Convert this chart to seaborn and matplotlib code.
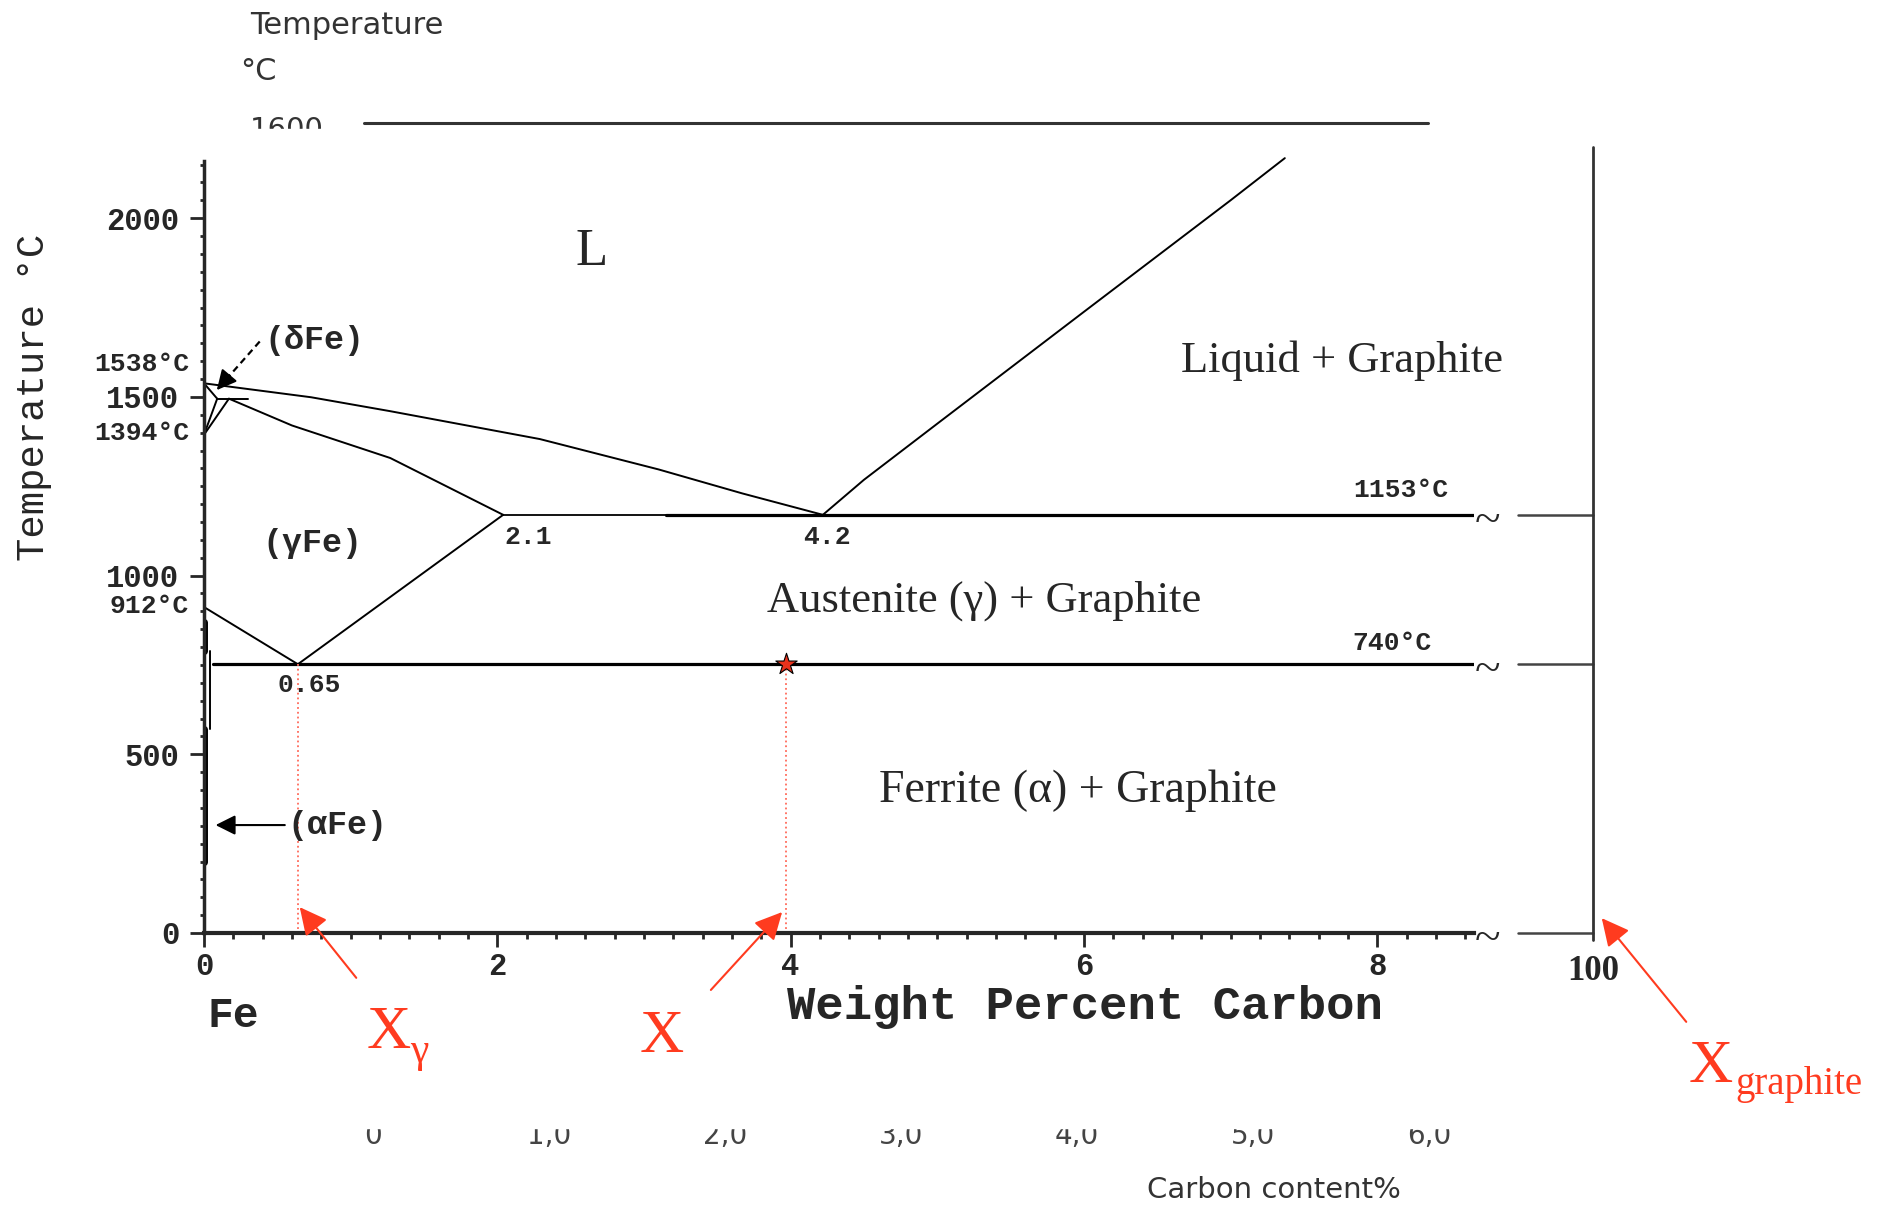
import matplotlib
matplotlib.use("Agg")
import matplotlib.pyplot as plt
import seaborn as sns
from matplotlib.lines import Line2D
from matplotlib.patches import Rectangle, FancyArrowPatch

# Fe-C (stable, graphite) phase diagram values
liq_fe_x = [0.0, 0.73, 1.27, 2.29, 3.10, 3.67, 4.22]
liq_fe_t = [1538, 1499, 1460, 1382, 1297, 1230, 1170]
liq_gr_x = [4.22, 4.5, 5.0, 6.0, 7.0, 7.37]
liq_gr_t = [1170, 1268, 1425, 1738, 2050, 2168]
solidus_x = [0.17, 0.6, 1.27, 2.04]
solidus_t = [1495, 1420, 1329, 1170]
acm_x = [2.04, 1.34, 0.64]
acm_t = [1170, 961, 752]
a3_x = [0.0, 0.64]
a3_t = [912, 752]
delta_sol_x = [0.0, 0.09]
delta_sol_t = [1538, 1495]
delta_a_x = [0.09, 0.0]
delta_a_t = [1495, 1394]
delta_b_x = [0.17, 0.0]
delta_b_t = [1495, 1394]
perit_x = [0.09, 0.3]
perit_t = [1495, 1495]
eutectic_x = [2.04, 8.66]
eutectic_t = 1170
eutectoid_x = [0.06, 8.66]
eutectoid_t = 752
alpha_bar_t = [[790, 870], [200, 570]]
alpha_thin_x = 0.04
alpha_thin_t = [570, 790]

alloy_x = 3.97          # the star, X
x_gamma = 0.64          # eutectoid composition
x_graphite = 9.47       # stands for 100 % (graphite) beyond the axis break
break_x = [8.96, 9.47]
break_temps = [1170, 752, 0]

x_ticks = [0, 2, 4, 6, 8]
y_ticks = [0, 500, 1000, 1500, 2000]
content_ticks = [0, 1, 2, 3, 4, 5, 6]
content_labels = ["0", "1,0", "2,0", "3,0", "4,0", "5,0", "6,0"]

W, H = 1885, 1210
def fp(x, y):
    return (x / W, 1 - y / H)

sns.set_style("white")
plt.rcParams["font.family"] = ["DejaVu Sans"]

PIX = dict(family="Liberation Mono", weight="bold")
SERIF = dict(family="Liberation Serif")
RED = "#ff3b1f"

fig = plt.figure(figsize=(W / 100, H / 100), dpi=100)
ax = fig.add_axes([204 / W, 277 / H, 1270 / W, 772 / H])
ax.set_xlim(0, 8.66)
ax.set_ylim(0, 2160)

# phase boundaries
thin = dict(color="black", lw=1.4, sort=False, estimator=None, ax=ax)
for xs, ts in [(liq_fe_x, liq_fe_t), (liq_gr_x, liq_gr_t), (solidus_x, solidus_t),
               (acm_x, acm_t), (a3_x, a3_t), (delta_sol_x, delta_sol_t),
               (delta_a_x, delta_a_t), (delta_b_x, delta_b_t), (perit_x, perit_t)]:
    sns.lineplot(x=xs, y=ts, **thin)
for ln in ax.lines:
    ln.set_clip_on(False)

sns.lineplot(x=[eutectic_x[0], 3.15], y=[eutectic_t] * 2, color="black", lw=1.3, ax=ax)
sns.lineplot(x=[3.15, eutectic_x[1]], y=[eutectic_t] * 2, color="black", lw=2.3, ax=ax)
sns.lineplot(x=eutectoid_x, y=[eutectoid_t] * 2, color="black", lw=2.3, ax=ax)
for seg in alpha_bar_t:
    sns.lineplot(x=[0, 0], y=seg, color="black", lw=5, ax=ax, sort=False, estimator=None)
sns.lineplot(x=[alpha_thin_x] * 2, y=alpha_thin_t, color="black", lw=1.4, ax=ax,
             sort=False, estimator=None)

# red guide lines and star
ax.plot([alloy_x, alloy_x], [eutectoid_t, 0], ls=":", color="#ff6a5a", lw=1.3)
ax.plot([x_gamma, x_gamma], [eutectoid_t, 0], ls=":", color="#ff6a5a", lw=1.3)
sns.scatterplot(x=[alloy_x], y=[eutectoid_t], marker="*", s=260, color="#e8321c",
                edgecolor="black", linewidth=0.8, ax=ax, zorder=5)

# axis break and the 100 % line
for t in break_temps:
    ax.plot(break_x, [t, t], color="#444444", lw=1.8, clip_on=False)
    ax.text(8.75, t - 18, "~", fontsize=34, ha="center", va="center", clip_on=False, **SERIF)
ax.plot([x_graphite, x_graphite], [-20, 2198], color="#333333", lw=2, clip_on=False)
ax.text(x_graphite, -108, "100", fontsize=25, weight="bold", ha="center", va="center",
        family="Liberation Serif")

# axes styling
sns.despine(ax=ax)
ax.spines["left"].set_linewidth(2.5)
ax.spines["bottom"].set_linewidth(3)
ax.set_xticks(x_ticks)
ax.set_xticks([v / 5 for v in range(0, 44)], minor=True)
ax.set_yticks(y_ticks)
ax.set_yticks(list(range(0, 2151, 50)), minor=True)
ax.tick_params(axis="x", which="major", length=10, width=2, pad=4, direction="out", bottom=True)
ax.tick_params(axis="x", which="minor", length=4, width=2, direction="out", bottom=True)
ax.tick_params(axis="y", which="major", length=10, width=2, pad=8, direction="out", left=True)
ax.tick_params(axis="y", which="minor", length=3, width=2, direction="out", left=True)
for lab in ax.get_xticklabels() + ax.get_yticklabels():
    lab.set_fontfamily("Liberation Mono")
    lab.set_fontweight("bold")
    lab.set_fontsize(22)
ax.set_xlabel("")
ax.set_ylabel("")

# region labels
ax.text(2.64, 1905, "L", fontsize=38, ha="center", va="center", **SERIF)
ax.text(7.76, 1600, "Liquid + Graphite", fontsize=32, ha="center", va="center", **SERIF)
ax.text(5.32, 929, "Austenite (γ) + Graphite", fontsize=32, ha="center", va="center", **SERIF)
ax.text(5.96, 397, "Ferrite (α) + Graphite", fontsize=33, ha="center", va="center", **SERIF)
ax.text(0.74, 1091, "(γFe)", fontsize=24, ha="center", va="center", **PIX)
ax.text(0.41, 1659, "(δFe)", fontsize=24, ha="left", va="center", **PIX)
ax.text(0.57, 302, "(αFe)", fontsize=24, ha="left", va="center", **PIX)
ax.text(2.05, 1108, "2.1", fontsize=19, ha="left", va="center", **PIX)
ax.text(4.25, 1108, "4.2", fontsize=19, ha="center", va="center", **PIX)
ax.text(0.72, 694, "0.65", fontsize=19, ha="center", va="center", **PIX)
ax.text(8.16, 1239, "1153°C", fontsize=19, ha="center", va="center", **PIX)
ax.text(8.10, 811, "740°C", fontsize=19, ha="center", va="center", **PIX)
for t, s in [(1592, "1538°C"), (1400, "1394°C"), (915, "912°C")]:
    ax.text(-0.1, t, s, fontsize=19, ha="right", va="center", clip_on=False, **PIX)

# black arrows
ax.plot([0.38, 0.1], [1655, 1525], ls=(0, (3, 2)), color="black", lw=1.6, clip_on=False)
ax.annotate("", xy=(0.075, 1513), xytext=(0.184, 1566), annotation_clip=False,
            arrowprops=dict(arrowstyle="-|>", color="black", lw=1.5, mutation_scale=30))
ax.annotate("", xy=(0.06, 302), xytext=(0.57, 302), annotation_clip=False,
            arrowprops=dict(arrowstyle="-|>", color="black", lw=1.5, mutation_scale=30))

# axis titles in the pixel font
fig.text(*fp(34, 397), "Temperature °C", rotation=90, fontsize=28, ha="center", va="center",
         family="Liberation Mono")
fig.text(*fp(1085, 1007), "Weight Percent Carbon", fontsize=34, ha="center", va="center", **PIX)
fig.text(*fp(207, 1016), "Fe", fontsize=31, ha="left", va="center", **PIX)

# red annotations
for head, tail in [((298, 905), (358, 980)), ((784, 910), (709, 992)), ((1600, 916), (1688, 1024))]:
    fig.add_artist(FancyArrowPatch(fp(*tail), fp(*head), transform=fig.transFigure,
                                   arrowstyle="-|>", mutation_scale=42, color=RED, lw=1.5))
fig.text(*fp(367, 1048), "X", fontsize=44, color=RED, ha="left", va="baseline", **SERIF)
fig.text(*fp(410, 1062), "γ", fontsize=30, color=RED, ha="left", va="baseline", **SERIF)
fig.text(*fp(640, 1052), "X", fontsize=44, color=RED, ha="left", va="baseline", **SERIF)
fig.text(*fp(1689, 1082), "X", fontsize=44, color=RED, ha="left", va="baseline", **SERIF)
fig.text(*fp(1735, 1094), "graphite", fontsize=28, color=RED, ha="left", va="baseline", **SERIF)

# remains of the chart underneath (top)
fig.text(*fp(250, 26), "Temperature", fontsize=22, color="#333333", ha="left", va="center")
fig.text(*fp(240, 72), "°C", fontsize=22, color="#333333", ha="left", va="center")
fig.text(*fp(250, 138), "1600", fontsize=21, color="#333333", ha="left", va="baseline")
fig.add_artist(Line2D([364 / W, 1428 / W], [1 - 123 / H] * 2, color="#333333", lw=2.2))
fig.add_artist(Rectangle(fp(240, 150), 100 / W, 21 / H, transform=fig.transFigure,
                         color="white", zorder=10))

# remains of the chart underneath (bottom)
ax2 = fig.add_axes([373 / W, 1 - 1122 / H, 1056 / W, 0.0005])
ax2.set_xlim(0, 6)
ax2.set_xticks(content_ticks)
ax2.set_xticklabels(content_labels, fontsize=20, color="#444444")
ax2.set_yticks([])
ax2.tick_params(axis="x", length=0, pad=0)
for s in ax2.spines.values():
    s.set_visible(False)
fig.add_artist(Rectangle(fp(340, 1128), 1120 / W, 20 / H, transform=fig.transFigure,
                         color="white", zorder=10))
fig.text(*fp(1274, 1190), "Carbon content%", fontsize=21, color="#333333", ha="center", va="center")

fig.savefig("out.png", dpi=100)
